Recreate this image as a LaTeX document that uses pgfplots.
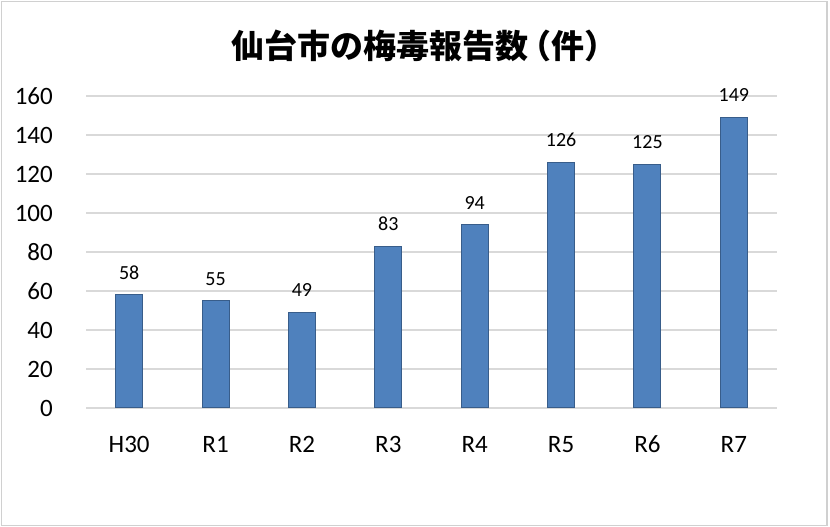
\documentclass[border=0pt]{standalone}
\usepackage{fontspec}
\usepackage{pgfplots}
\pgfplotsset{compat=1.18}
\setmainfont{Carlito}
\newfontfamily\cjk{Noto Sans CJK JP}
\definecolor{barfill}{HTML}{4F81BD}
\definecolor{barline}{HTML}{385D8A}
\definecolor{gridc}{HTML}{D9D9D9}
\definecolor{framec}{HTML}{D0D0D0}
\begin{document}
\begin{tikzpicture}[x=1bp,y=1bp]
\path[use as bounding box] (0,0) rectangle (830,527);
\draw[framec, line width=1.5bp] (1.5,1.5) rectangle (827,525.5);
\node[font=\cjk\bfseries\fontsize{33bp}{38bp}\selectfont, inner sep=0, anchor=west] at (231,481) {仙台市の梅毒報告数\kern-0.3em（件）};
\begin{axis}[
  at={(86bp,119bp)}, anchor=south west,
  scale only axis, width=691bp, height=312bp,
  xmin=-0.5, xmax=7.5, ymin=0, ymax=160,
  ytick={0,20,...,160},
  xtick=data,
  xticklabels={H30,R1,R2,R3,R4,R5,R6,R7},
  axis line style={draw=none},
  major tick length=0pt,
  ymajorgrids, grid style={gridc, line width=1.3bp},
  /pgf/number format/assume math mode=true,
  tick label style={font=\fontsize{25bp}{30bp}\selectfont, inner sep=0pt},
  yticklabel style={anchor=east, xshift=-33bp},
  xticklabel style={anchor=base, yshift=-45bp},
  clip=false,
  ybar, bar width=27bp, bar shift=0pt,
  nodes near coords,
  every node near coord/.append style={font=\fontsize{20bp}{24bp}\selectfont, anchor=south, inner sep=0pt, yshift=15bp, black},
]
\addplot[fill=barfill, draw=barline, line width=1bp] coordinates {
(0,58) (1,55) (2,49) (3,83) (4,94) (5,126) (6,125) (7,149)};
\end{axis}
\end{tikzpicture}
\end{document}
